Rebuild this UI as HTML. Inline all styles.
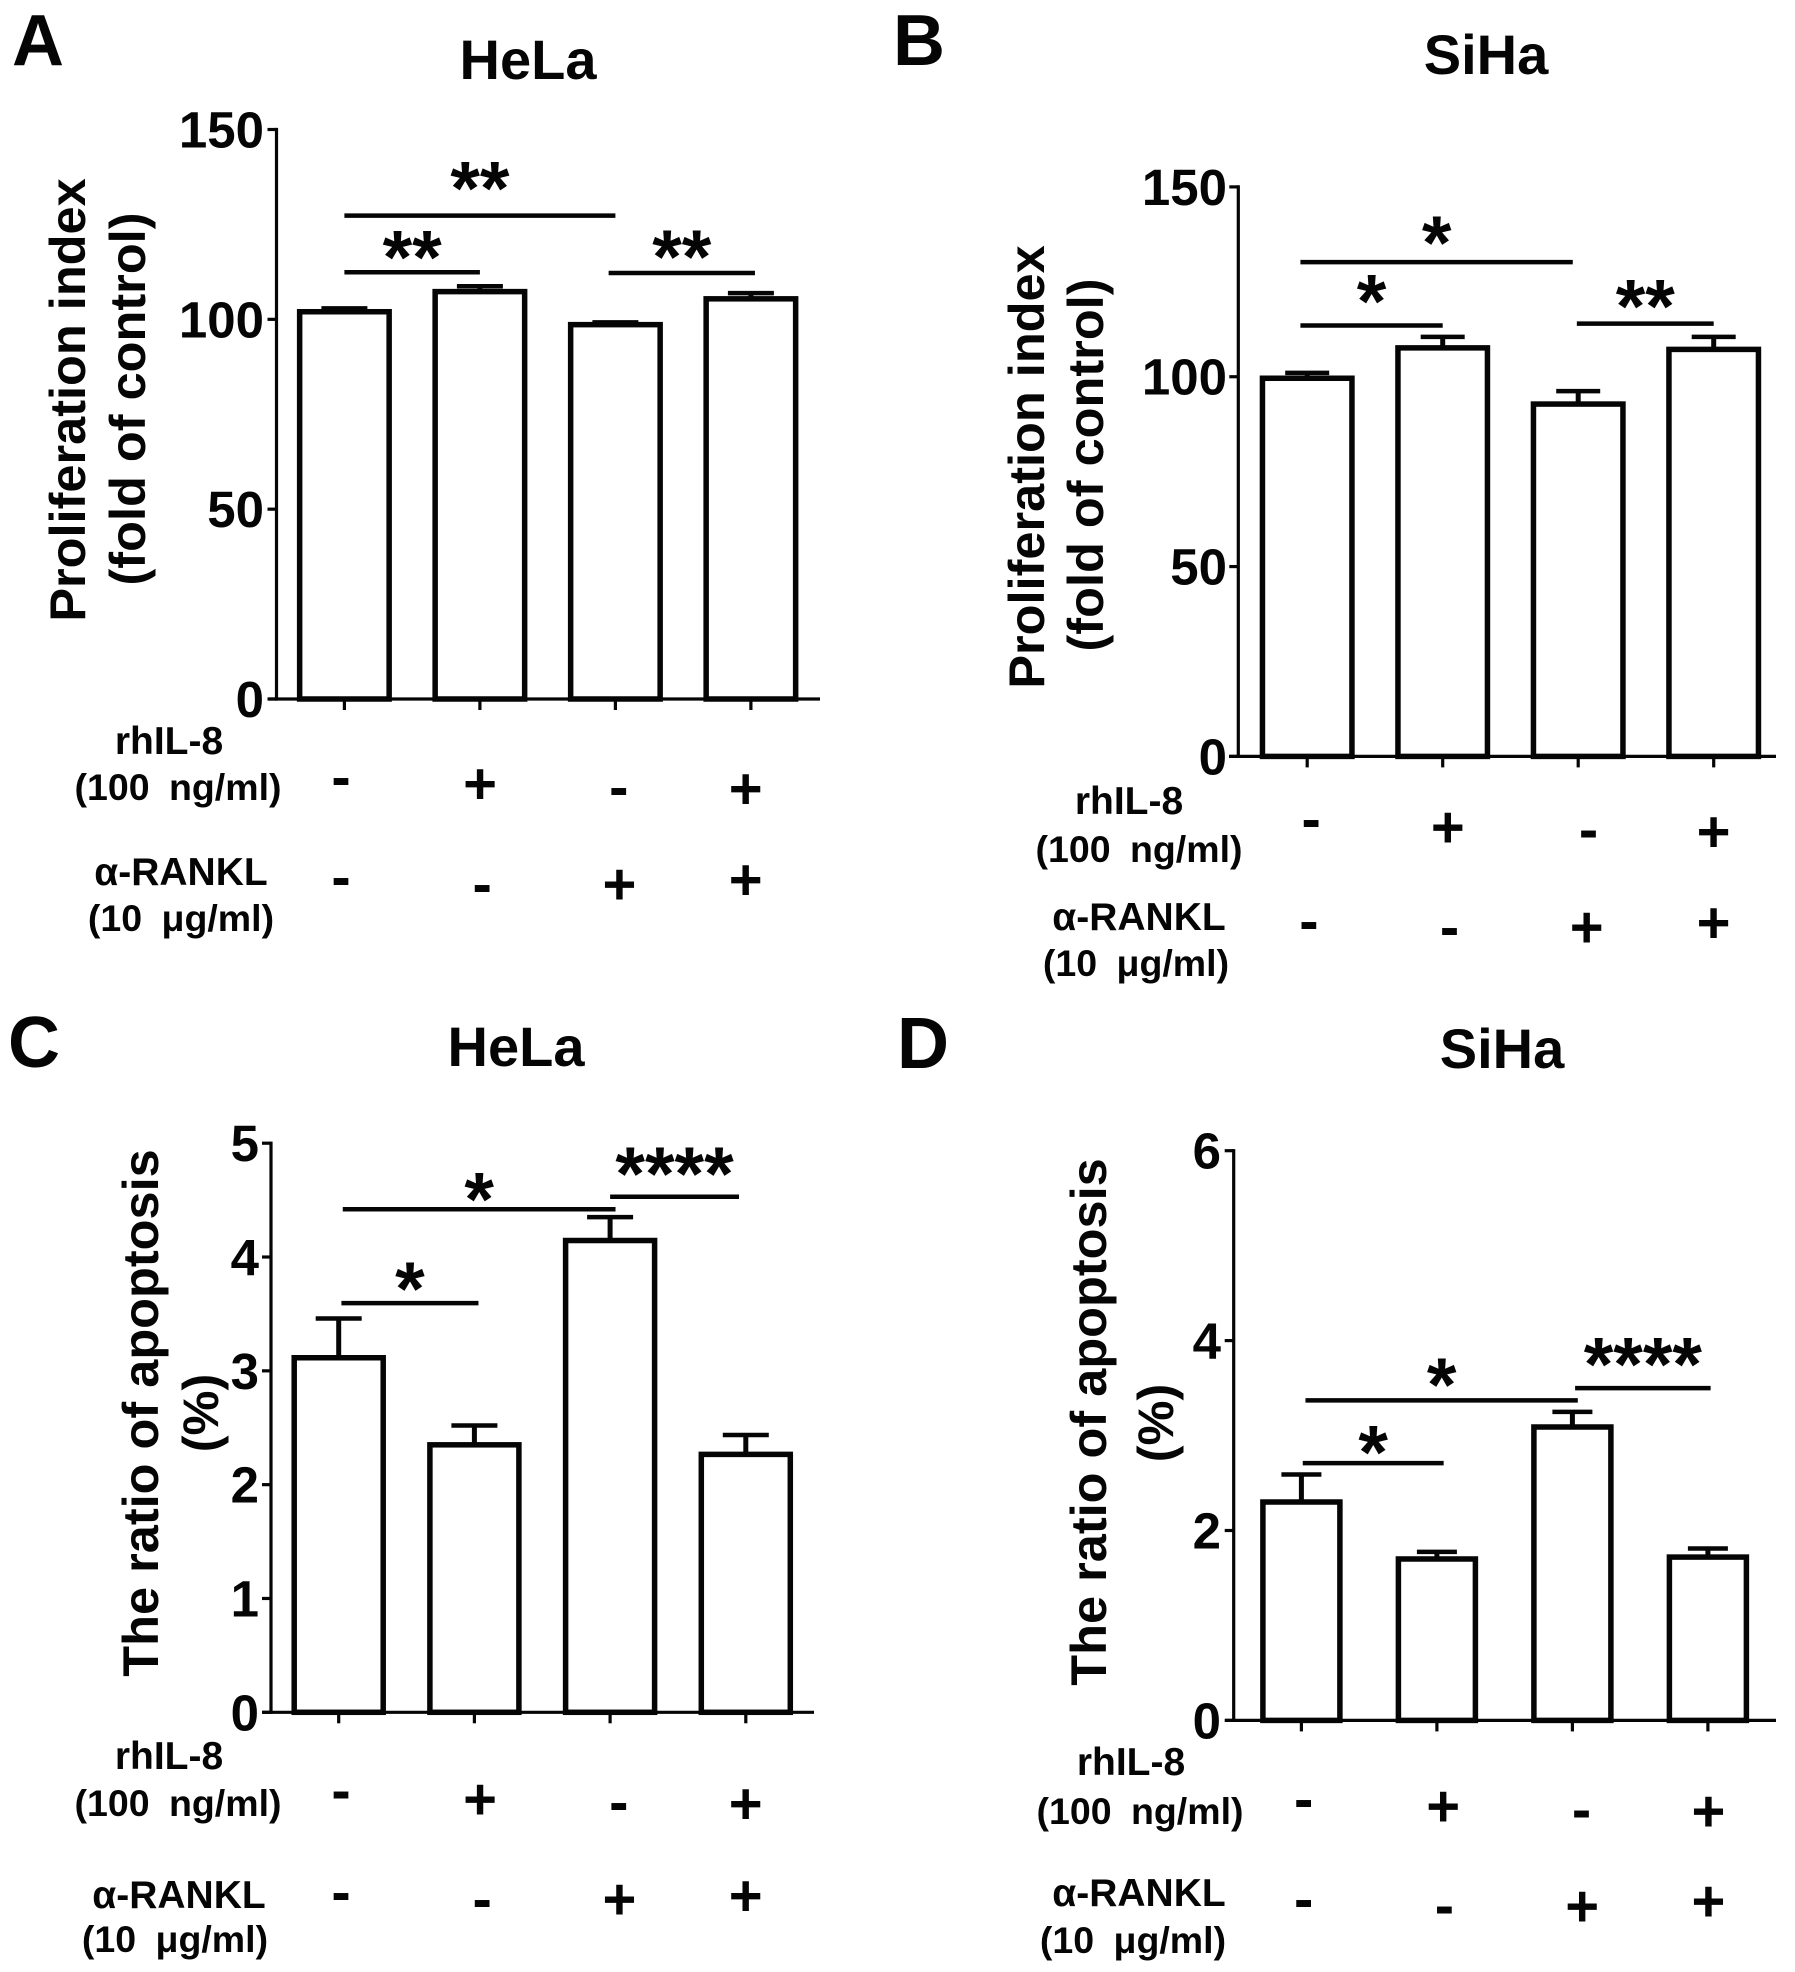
<!DOCTYPE html>
<html lang="en">
<head>
<meta charset="utf-8">
<title>Proliferation and apoptosis in HeLa and SiHa cells</title>
<style>
html,body{margin:0;padding:0;background:#fff;width:1795px;height:1972px;overflow:hidden}
svg{display:block}
text{font-family:"Liberation Sans",Arial,sans-serif;font-weight:bold;fill:#050505}
.panel-letter{font-size:72px}
.title{font-size:56px;text-anchor:middle}
.ya{font-size:50.5px;text-anchor:middle}
.yb{font-size:50.5px;text-anchor:middle}
.yc{font-size:50.5px;text-anchor:middle}
.cond{font-size:39px;text-anchor:middle}
.dose{font-size:37.5px;text-anchor:middle;word-spacing:9px}
</style>
</head>
<body>
<svg id="figure" width="1795" height="1972" viewBox="0 0 1795 1972" xmlns="http://www.w3.org/2000/svg">
  <rect width="1795" height="1972" fill="#fff"/>

  <g id="panel-a">
    <text class="panel-letter" x="12" y="65">A</text>
    <text class="title" x="528" y="79">HeLa</text>
    <text class="ya" transform="translate(85,400) rotate(-90)">Proliferation index</text>
    <text class="yb" transform="translate(145,399) rotate(-90)">(fold of control)</text>
    <text class="cond" x="169" y="754">rhIL-8</text>
    <text class="dose" x="178" y="800">(100 ng/ml)</text>
    <text class="cond" x="181" y="885">α-RANKL</text>
    <text class="dose" x="181" y="931">(10 μg/ml)</text>
  </g>

  <g id="panel-b">
    <text class="panel-letter" x="893" y="65">B</text>
    <text class="title" x="1486" y="74">SiHa</text>
    <text class="ya" transform="translate(1044,467) rotate(-90)">Proliferation index</text>
    <text class="yb" transform="translate(1103,465) rotate(-90)">(fold of control)</text>
    <text class="cond" x="1129" y="814">rhIL-8</text>
    <text class="dose" x="1139" y="862">(100 ng/ml)</text>
    <text class="cond" x="1139" y="930">α-RANKL</text>
    <text class="dose" x="1136" y="976">(10 μg/ml)</text>
  </g>

  <g id="panel-c">
    <text class="panel-letter" x="8" y="1067">C</text>
    <text class="title" x="516" y="1066">HeLa</text>
    <text class="yc" transform="translate(158,1413) rotate(-90)">The ratio of apoptosis</text>
    <text class="yb" transform="translate(218,1413) rotate(-90)">(%)</text>
    <text class="cond" x="169" y="1769">rhIL-8</text>
    <text class="dose" x="178" y="1816">(100 ng/ml)</text>
    <text class="cond" x="179" y="1908">α-RANKL</text>
    <text class="dose" x="175" y="1952">(10 μg/ml)</text>
  </g>

  <g id="panel-d">
    <text class="panel-letter" x="897" y="1068">D</text>
    <text class="title" x="1502" y="1068">SiHa</text>
    <text class="yc" transform="translate(1106,1422) rotate(-90)">The ratio of apoptosis</text>
    <text class="yb" transform="translate(1173,1423) rotate(-90)">(%)</text>
    <text class="cond" x="1131" y="1775">rhIL-8</text>
    <text class="dose" x="1140" y="1824">(100 ng/ml)</text>
    <text class="cond" x="1139" y="1906">α-RANKL</text>
    <text class="dose" x="1133" y="1953">(10 μg/ml)</text>
  </g>
</svg>

<script>
// ---- shared data ----
const categories = ['control', 'rhIL-8', 'anti-RANKL', 'rhIL-8 + anti-RANKL'];
const rhil8Signs = ['-', '+', '-', '+'];
const ranklSigns = ['-', '-', '+', '+'];

// ---- panel A ----
const panelAValues = [102.0, 107.3, 98.6, 105.4];
const panelAErrors = [0.9, 1.4, 0.6, 1.5];
const panelATicks = [0, 50, 100, 150];
const panelATickLabels = ['0', '50', '100', '150'];
const panelABracketStarts = [0, 0, 1.95];
const panelABracketEnds = [2, 1, 3.03];
const panelABracketLevels = [127.3, 112.4, 112.2];
const panelABracketLabels = ['**', '**', '**'];

// ---- panel B ----
const panelBValues = [99.6, 107.6, 92.8, 107.2];
const panelBErrors = [1.4, 2.9, 3.4, 3.3];
const panelBTicks = [0, 50, 100, 150];
const panelBTickLabels = ['0', '50', '100', '150'];
const panelBBracketStarts = [-0.05, -0.05, 1.99];
const panelBBracketEnds = [1.96, 1, 3];
const panelBBracketLevels = [130.2, 113.5, 114];
const panelBBracketLabels = ['*', '*', '**'];

// ---- panel C ----
const panelCValues = [3.115, 2.35, 4.145, 2.266];
const panelCErrors = [0.345, 0.17, 0.205, 0.17];
const panelCTicks = [0, 1, 2, 3, 4, 5];
const panelCTickLabels = ['0', '1', '2', '3', '4', '5'];
const panelCBracketStarts = [0.03, 0.02, 2];
const panelCBracketEnds = [2.04, 1.03, 2.95];
const panelCBracketLevels = [4.42, 3.595, 4.53];
const panelCBracketLabels = ['*', '*', '****'];

// ---- panel D ----
const panelDValues = [2.3, 1.7, 3.09, 1.72];
const panelDErrors = [0.29, 0.075, 0.16, 0.09];
const panelDTicks = [0, 2, 4, 6];
const panelDTickLabels = ['0', '2', '4', '6'];
const panelDBracketStarts = [0.03, 0.01, 2.02];
const panelDBracketEnds = [2.04, 1.05, 3.02];
const panelDBracketLevels = [3.37, 2.71, 3.5];
const panelDBracketLabels = ['*', '*', '****'];

// ---- layouts (geometry only) ----
const layouts = [
  { id: 'a', values: panelAValues, errors: panelAErrors, ticks: panelATicks, tickLabels: panelATickLabels,
    starts: panelABracketStarts, ends: panelABracketEnds, levels: panelABracketLevels, labels: panelABracketLabels,
    axisX: 276.5, y0: 699, yTop: 129.5, yMax: 150, xFirst: 344.4, xStep: 135.5, xAxisStart: 268.6, xAxisEnd: 820,
    labelRight: 264, barWidth: 89.5, capWidth: 46, starGaps: [43, 31, 32],
    row1X: [341, 480, 618.8, 745.7], row1Y: [780.6, 784.4, 790.8, 789.5],
    row2X: [341, 482.2, 619.4, 745.7], row2Y: [880.7, 887.8, 885.2, 880.7] },
  { id: 'b', values: panelBValues, errors: panelBErrors, ticks: panelBTicks, tickLabels: panelBTickLabels,
    starts: panelBBracketStarts, ends: panelBBracketEnds, levels: panelBBracketLevels, labels: panelBBracketLabels,
    axisX: 1238.3, y0: 756.4, yTop: 186.9, yMax: 150, xFirst: 1307.2, xStep: 135.5, xAxisStart: 1229, xAxisEnd: 1776,
    labelRight: 1227, barWidth: 89.5, capWidth: 44, starGaps: [35, 40, 33],
    row1X: [1311.2, 1447.8, 1588.5, 1713.6], row1Y: [822.7, 827.8, 833.5, 832.3],
    row2X: [1308.9, 1449.5, 1586.7, 1713.6], row2Y: [924.7, 931, 928, 923.5] },
  { id: 'c', values: panelCValues, errors: panelCErrors, ticks: panelCTicks, tickLabels: panelCTickLabels,
    starts: panelCBracketStarts, ends: panelCBracketEnds, levels: panelCBracketLevels, labels: panelCBracketLabels,
    axisX: 271, y0: 1712.3, yTop: 1143.2, yMax: 5, xFirst: 338.7, xStep: 135.7, xAxisStart: 262.3, xAxisEnd: 814,
    labelRight: 259, barWidth: 89, capWidth: 46, starGaps: [25.5, 30, 38.5],
    row1X: [341, 480, 618.8, 745.7], row1Y: [1794.2, 1799.8, 1806, 1804.7],
    row2X: [341, 482.2, 619.4, 745.7], row2Y: [1895.9, 1902.7, 1900.2, 1896.5] },
  { id: 'd', values: panelDValues, errors: panelDErrors, ticks: panelDTicks, tickLabels: panelDTickLabels,
    starts: panelDBracketStarts, ends: panelDBracketEnds, levels: panelDBracketLevels, labels: panelDBracketLabels,
    axisX: 1233.7, y0: 1720.4, yTop: 1150.7, yMax: 6, xFirst: 1301.4, xStep: 135.5, xAxisStart: 1225, xAxisEnd: 1776,
    labelRight: 1221, barWidth: 77, capWidth: 40, starGaps: [31.5, 26.5, 39.5],
    row1X: [1303.7, 1443.2, 1581.6, 1708.4], row1Y: [1802.9, 1807.2, 1813.4, 1812.1],
    row2X: [1303.7, 1444.4, 1582.2, 1708.4], row2Y: [1902.7, 1909.5, 1907, 1902] }
];

const SVG_NS = 'http://www.w3.org/2000/svg';
const INK = '#050505';

function make(tag, attrs, parent) {
  const node = document.createElementNS(SVG_NS, tag);
  for (const key in attrs) node.setAttribute(key, attrs[key]);
  parent.appendChild(node);
  return node;
}

function drawSign(sign, x, cy, parent, name) {
  const baseline = cy + (sign === '+' ? 19 : 15.7);
  const el = make('text', { x: x, y: baseline, 'text-anchor': 'middle', 'font-size': 58 }, parent);
  el.textContent = sign;
  
  
}

function drawPanel(p) {
  const root = document.getElementById('panel-' + p.id);
  const yScale = v => p.y0 - (v / p.yMax) * (p.y0 - p.yTop);
  const xScale = i => p.xFirst + i * p.xStep;

  // bars and error bars
  categories.forEach((cat, i) => {
    const cx = xScale(i);
    const top = yScale(p.values[i]);
    const errTop = yScale(p.values[i] + p.errors[i]);

    const stem = make('line', { x1: cx, x2: cx, y1: top, y2: errTop, stroke: INK, 'stroke-width': 5 }, root);
    
    

    const cap = make('line', { x1: cx - p.capWidth / 2, x2: cx + p.capWidth / 2, y1: errTop, y2: errTop, stroke: INK, 'stroke-width': 4.5 }, root);
    
    

    const bar = make('rect', { x: cx - p.barWidth / 2, y: top, width: p.barWidth, height: p.y0 - top, fill: '#fff', stroke: INK, 'stroke-width': 5.5 }, root);
    
    

    const tick = make('line', { x1: cx, x2: cx, y1: p.y0, y2: p.y0 + 11, stroke: INK, 'stroke-width': 3.2 }, root);
    
    
  });

  // axes
  const yAxis = make('line', { x1: p.axisX, x2: p.axisX, y1: yScale(p.yMax) - 1.6, y2: p.y0 + 1.6, stroke: INK, 'stroke-width': 3.2 }, root);
  
  

  const xAxis = make('line', { x1: p.xAxisStart, x2: p.xAxisEnd, y1: p.y0, y2: p.y0, stroke: INK, 'stroke-width': 3.2 }, root);
  
  

  p.ticks.forEach((t, i) => {
    const y = yScale(t);
    const tick = make('line', { x1: p.axisX - 9, x2: p.axisX, y1: y, y2: y, stroke: INK, 'stroke-width': 3.2 }, root);
    
    

    const label = make('text', { x: p.labelRight, y: y + 18, 'text-anchor': 'end', 'font-size': 51 }, root);
    label.textContent = p.tickLabels[i];
    
    
  });

  // significance brackets
  p.levels.forEach((level, i) => {
    const y = yScale(level);
    const x1 = xScale(p.starts[i]);
    const x2 = xScale(p.ends[i]);
    const line = make('line', { x1: x1, x2: x2, y1: y, y2: y, stroke: INK, 'stroke-width': 4.5 }, root);
    
    

    const star = make('text', { x: (x1 + x2) / 2, y: y - p.starGaps[i] + 42, 'text-anchor': 'middle', 'font-size': 76 }, root);
    star.textContent = p.labels[i];
    
    
  });

  // treatment signs
  rhil8Signs.forEach((s, i) => drawSign(s, p.row1X[i], p.row1Y[i], root, 'rhil8-sign-' + (i + 1)));
  ranklSigns.forEach((s, i) => drawSign(s, p.row2X[i], p.row2Y[i], root, 'rankl-sign-' + (i + 1)));
}

layouts.forEach(drawPanel);
</script>
</body>
</html>
